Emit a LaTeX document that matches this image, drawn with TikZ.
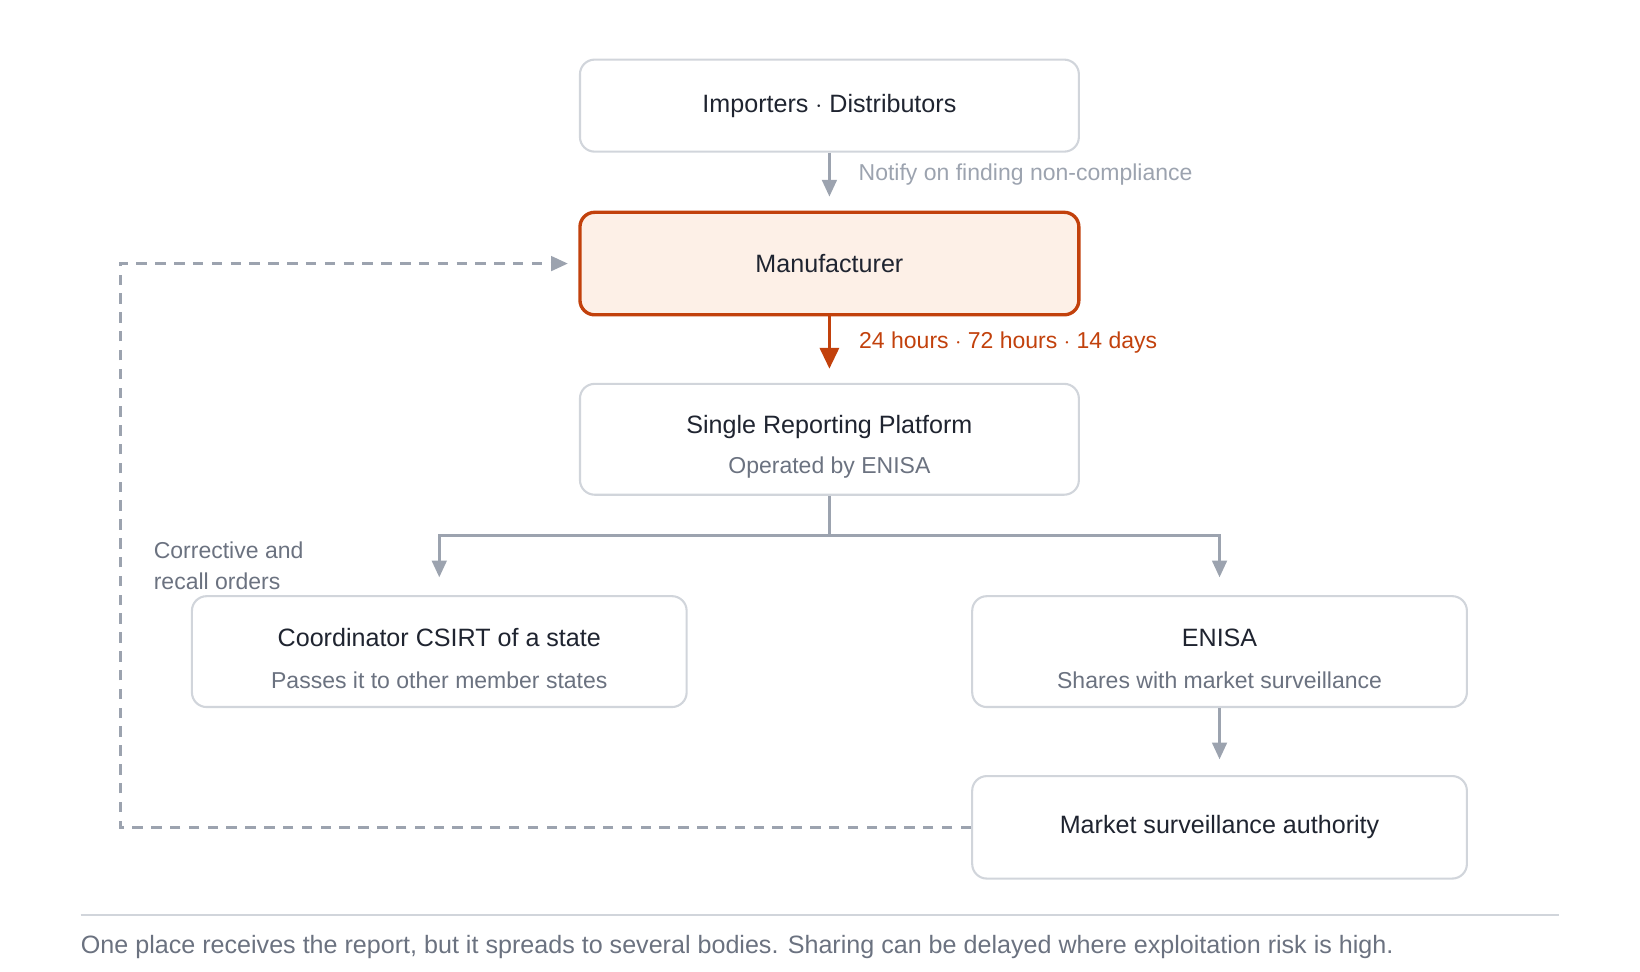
\documentclass[tikz,border=0pt]{standalone}
\usepackage{fontspec}
\setmainfont{Liberation Sans}
\usetikzlibrary{arrows.meta,positioning}
\definecolor{ink}{HTML}{1F2430}
\definecolor{subink}{HTML}{6B7280}
\definecolor{edge}{HTML}{9CA3AF}
\definecolor{boxline}{HTML}{D1D5DB}
\definecolor{mfline}{HTML}{C2410C}
\definecolor{mffill}{HTML}{FDF0E7}
\tikzset{
  card/.style={draw=boxline,line width=1pt,rounded corners=7pt,fill=white,
    text=ink,font=\fontsize{12}{14}\selectfont,align=center,inner sep=0pt},
  flow/.style={draw=edge,line width=1.3pt,-{Triangle[length=8pt,width=7pt]}},
  note/.style={font=\fontsize{11}{13}\selectfont,text=edge,anchor=west},
  sub/.style={font=\fontsize{11}{13}\selectfont,text=subink}
}
\begin{document}
\begin{tikzpicture}[x=0.5pt,y=-0.5pt]
			\useasboundingbox (0,0) rectangle (1568,929);
			% boxes
			\node[card,minimum width=238.5pt,minimum height=44pt] (imp) at (793,101) {Importers $\cdot$ Distributors};
			\node[card,draw=mfline,line width=1.6pt,fill=mffill,minimum width=238.5pt,minimum height=49pt] (man) at (793,252) {Manufacturer};
			\node[card,minimum width=238.5pt,minimum height=53pt] (srp) at (793,420) {};
			\node at (793,408) {\fontsize{12}{14}\selectfont\color{ink}Single Reporting Platform};
			\node[sub] at (793,447) {Operated by ENISA};
			\node[card,minimum width=236.5pt,minimum height=53pt] (csirt) at (420,623) {};
			\node at (420,610) {\fontsize{12}{14}\selectfont\color{ink}Coordinator CSIRT of a state};
			\node[sub] at (420,650) {Passes it to other member states};
			\node[card,minimum width=236.5pt,minimum height=53pt] (enisa) at (1166,623) {};
			\node at (1166,610) {\fontsize{12}{14}\selectfont\color{ink}ENISA};
			\node[sub] at (1166,650) {Shares with market surveillance};
			\node[card,minimum width=236.5pt,minimum height=49pt] (msa) at (1166,791) {Market surveillance authority};
			% arrows
			\draw[flow] (imp.south) -- ++(0,42) node[note,midway,right=10pt] {Notify on finding non-compliance};
			\draw[flow,draw=mfline,line width=1.8pt,-{Triangle[length=10pt,width=9pt]}] (man.south) -- ++(0,50)
			  node[note,midway,right=10pt,text=mfline] {24 hours $\cdot$ 72 hours $\cdot$ 14 days};
			\coordinate (split) at (793,512);
			\draw[draw=edge,line width=1.3pt] (srp.south) -- (split);
			\draw[flow] (split) -| ([yshift=8.5pt]csirt.north);
			\draw[flow] (split) -| ([yshift=8.5pt]enisa.north);
			\draw[flow] (enisa.south) -- ++(0,49);
			% feedback loop
			\coordinate (loop) at (115,791);
			\draw[flow,dashed,dash pattern=on 5pt off 4pt] (msa.west) -- (loop) |- ([xshift=-5pt]man.west);
			\node[note,text=subink,align=left] at (140,541) {Corrective and\\[2pt]recall orders};
			% caption
			\draw[draw=boxline,line width=0.8pt] (77,875) -- (1491,875);
			\node[anchor=west,inner sep=0pt,font=\fontsize{12}{14}\selectfont,text=subink] at (77,905)
			  {One place receives the report, but it spreads to several bodies. Sharing can be delayed where exploitation risk is high.};
		\end{tikzpicture}
\end{document}
